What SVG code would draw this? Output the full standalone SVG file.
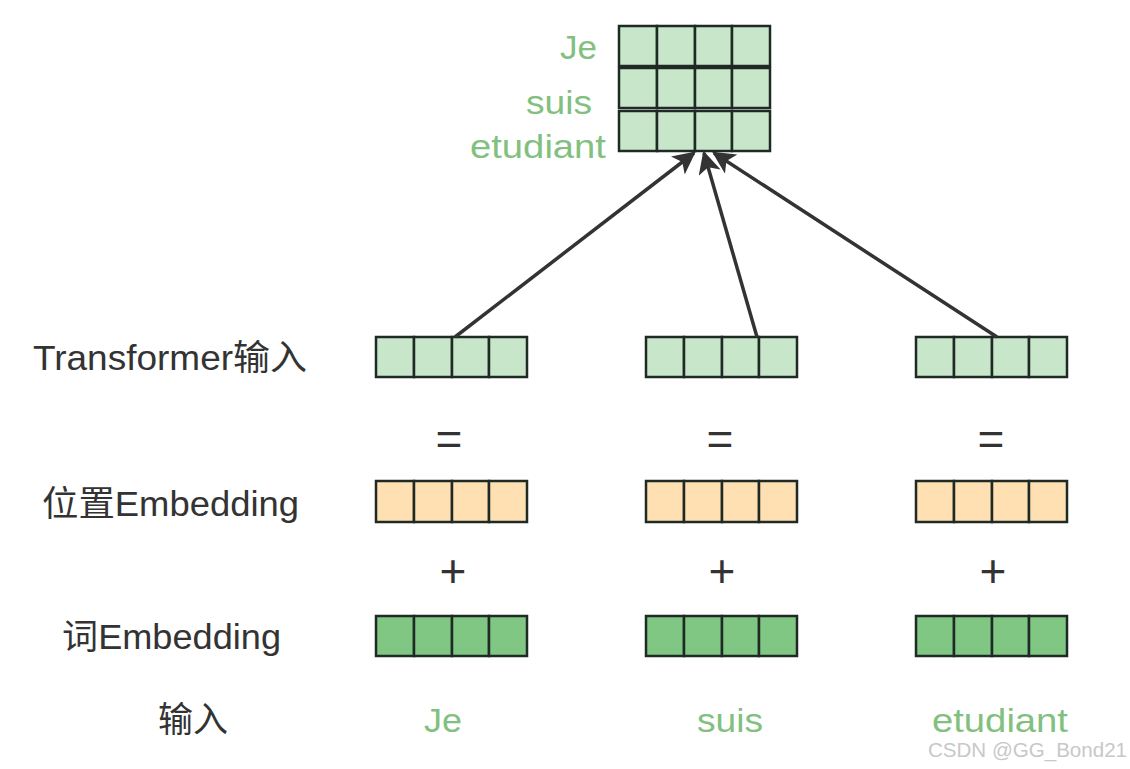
<svg xmlns="http://www.w3.org/2000/svg" width="1130" height="769" viewBox="0 0 1130 769">
<defs>
<style>
.lt{fill:#c8e6c9;stroke:#1f2a24;stroke-width:2.5}
.or{fill:#ffe0b2;stroke:#1f2a24;stroke-width:2.5}
.dk{fill:#81c784;stroke:#1f2a24;stroke-width:2.5}
.lbl{font-family:"Liberation Sans","Noto Sans CJK SC",sans-serif;font-size:35px;fill:#333333}
.grn{font-family:"Liberation Sans","Noto Sans CJK SC",sans-serif;font-size:34px;fill:#82c07f}
.op{font-family:"Liberation Sans",sans-serif;font-size:46px;fill:#333333;text-anchor:middle}
.wm{font-family:"Liberation Sans",sans-serif;font-size:20px;fill:#c8c8c8}
.ar{stroke:#333333;stroke-width:3.5;fill:none}
</style>
<marker id="ah" viewBox="0 0 10 10" refX="9" refY="5" markerWidth="6.5" markerHeight="6.5" markerUnits="strokeWidth" orient="auto">
<path d="M0,0 L10,5 L0,10 L2.5,5 Z" fill="#333333"/>
</marker>
<g id="vec-lt">
<rect class="lt" x="0" y="0" width="38" height="40"/><rect class="lt" x="38" y="0" width="38" height="40"/><rect class="lt" x="76" y="0" width="37" height="40"/><rect class="lt" x="113" y="0" width="38" height="40"/>
</g>
<g id="vec-or">
<rect class="or" x="0" y="0" width="38" height="41"/><rect class="or" x="38" y="0" width="38" height="41"/><rect class="or" x="76" y="0" width="37" height="41"/><rect class="or" x="113" y="0" width="38" height="41"/>
</g>
<g id="vec-dk">
<rect class="dk" x="0" y="0" width="38" height="40"/><rect class="dk" x="38" y="0" width="38" height="40"/><rect class="dk" x="76" y="0" width="37" height="40"/><rect class="dk" x="113" y="0" width="38" height="40"/>
</g>
</defs>
<rect width="1130" height="769" fill="#ffffff"/>

<g id="output-matrix">
<use href="#vec-lt" x="619" y="26"/>
<use href="#vec-lt" x="619" y="68"/>
<use href="#vec-lt" x="619" y="111"/>
<text class="grn" x="560" y="59" textLength="37" lengthAdjust="spacingAndGlyphs">Je</text>
<text class="grn" x="526" y="114" textLength="66" lengthAdjust="spacingAndGlyphs">suis</text>
<text class="grn" x="470" y="158" textLength="136" lengthAdjust="spacingAndGlyphs">etudiant</text>
</g>

<g id="row-labels">
<text class="lbl" x="33" y="370" textLength="274" lengthAdjust="spacingAndGlyphs">Transformer输入</text>
<text class="lbl" x="42" y="516" textLength="257" lengthAdjust="spacingAndGlyphs">位置Embedding</text>
<text class="lbl" x="62" y="649" textLength="219" lengthAdjust="spacingAndGlyphs">词Embedding</text>
<text class="lbl" x="158" y="732" textLength="70" lengthAdjust="spacingAndGlyphs">输入</text>
</g>

<g id="col-je">
<use href="#vec-lt" x="376" y="337"/>
<text class="op" x="449" y="455">=</text>
<use href="#vec-or" x="376" y="481"/>
<text class="op" x="453" y="587">+</text>
<use href="#vec-dk" x="376" y="616"/>
<text class="grn" x="424" y="732" textLength="38" lengthAdjust="spacingAndGlyphs">Je</text>
</g>

<g id="col-suis">
<use href="#vec-lt" x="646" y="337"/>
<text class="op" x="720" y="455">=</text>
<use href="#vec-or" x="646" y="481"/>
<text class="op" x="722" y="587">+</text>
<use href="#vec-dk" x="646" y="616"/>
<text class="grn" x="697" y="732" textLength="66" lengthAdjust="spacingAndGlyphs">suis</text>
</g>

<g id="col-etudiant">
<use href="#vec-lt" x="916" y="337"/>
<text class="op" x="991" y="455">=</text>
<use href="#vec-or" x="916" y="481"/>
<text class="op" x="993" y="587">+</text>
<use href="#vec-dk" x="916" y="616"/>
<text class="grn" x="932" y="732" textLength="136" lengthAdjust="spacingAndGlyphs">etudiant</text>
</g>

<g id="connectors">
<line class="ar" x1="455" y1="337" x2="694" y2="153" marker-end="url(#ah)"/>
<line class="ar" x1="757" y1="337" x2="704" y2="153" marker-end="url(#ah)"/>
<line class="ar" x1="997" y1="337" x2="714" y2="153" marker-end="url(#ah)"/>
</g>

<text class="wm" x="928" y="757" textLength="199" lengthAdjust="spacingAndGlyphs">CSDN @GG_Bond21</text>
</svg>
